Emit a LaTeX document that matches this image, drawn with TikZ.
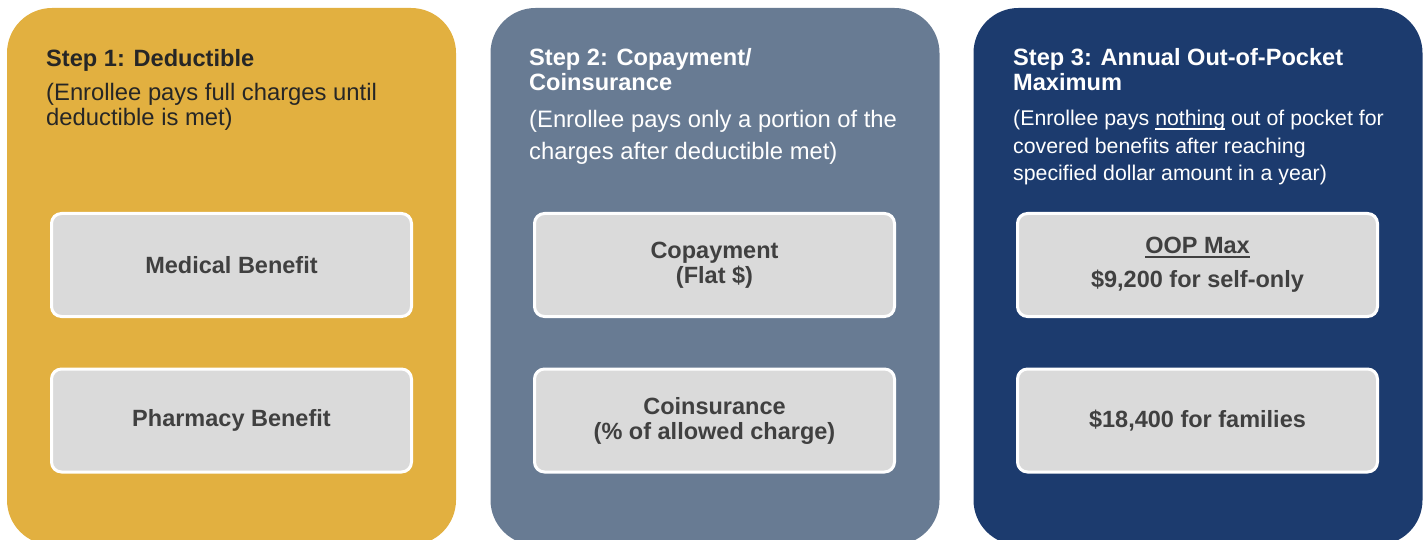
\documentclass[tikz,border=0pt]{standalone}
\usepackage{fontspec}
\setmainfont{Liberation Sans}
\definecolor{stepgold}{HTML}{E2B040}
\definecolor{stepslate}{HTML}{687B93}
\definecolor{stepnavy}{HTML}{1C3B6E}
\definecolor{boxgray}{HTML}{DADADA}
\definecolor{boxtext}{HTML}{404040}
\definecolor{darktext}{HTML}{262626}
\newcommand\undr[1]{\setbox0\hbox{#1}\rlap{\vrule height -2.5pt depth 4pt width \wd0}\box0\relax}

\begin{document}
\begin{tikzpicture}[x=1pt,y=1pt,
  panel/.style={rounded corners=45pt,minimum width=449pt,minimum height=537pt,inner sep=0pt},
  benefit/.style={draw=white,line width=3pt,fill=boxgray,rounded corners=10pt,
    minimum width=360pt,minimum height=103pt,align=center,text=boxtext,
    font=\fontsize{23.5}{25}\selectfont\bfseries},
  steptitle/.style={anchor=base west,inner sep=0pt,align=left,font=\fontsize{23.6}{25}\selectfont\bfseries},
  stepnote/.style={anchor=base west,inner sep=0pt,align=left}]
\clip (0,0) rectangle (1427,539);
\node[panel,fill=stepgold] (deduct) at (231.5,262.5) {};
\node[panel,fill=stepslate] (copay) at (715,262.5) {};
\node[panel,fill=stepnavy] (oopmax) at (1198,262.5) {};
\node[steptitle,text=darktext] (deducttitle) at (46,472) {Step 1: Deductible};
\node[stepnote,text=darktext,font=\fontsize{23.8}{25}\selectfont] (deductnote) at (46,413)
  {(Enrollee pays full charges until\\deductible is met)};
\node[steptitle,text=white] (copaytitle) at (529,448) {Step 2: Copayment/\\Coinsurance};
\node[stepnote,text=white,font=\fontsize{23.8}{32}\selectfont] (copaynote) at (529,379)
  {(Enrollee pays only a portion of the\\charges after deductible met)};
\node[steptitle,text=white] (ooptitle) at (1013,448) {Step 3: Annual Out-of-Pocket\\Maximum};
\node[stepnote,text=white,font=\fontsize{21.3}{27.5}\selectfont] (oopnote) at (1013,358)
  {(Enrollee pays \undr{nothing} out of pocket for\\covered benefits after reaching\\specified dollar amount in a year)};
\node[benefit] (deductmed) at (231.5,274) {Medical Benefit};
\node[benefit] (deductrx) at (231.5,118.5) {Pharmacy Benefit};
\node[benefit] (copayflat) at (714.5,274) {Copayment\\(Flat \$)};
\node[benefit] (copaycoins) at (714.5,118.5) {Coinsurance\\(\% of allowed charge)};
\node[benefit] (oopself) at (1197.5,274) {\undr{OOP Max}\\[9pt]\$9,200 for self-only};
\node[benefit] (oopfamily) at (1197.5,118.5) {\$18,400 for families};
\end{tikzpicture}
\end{document}
